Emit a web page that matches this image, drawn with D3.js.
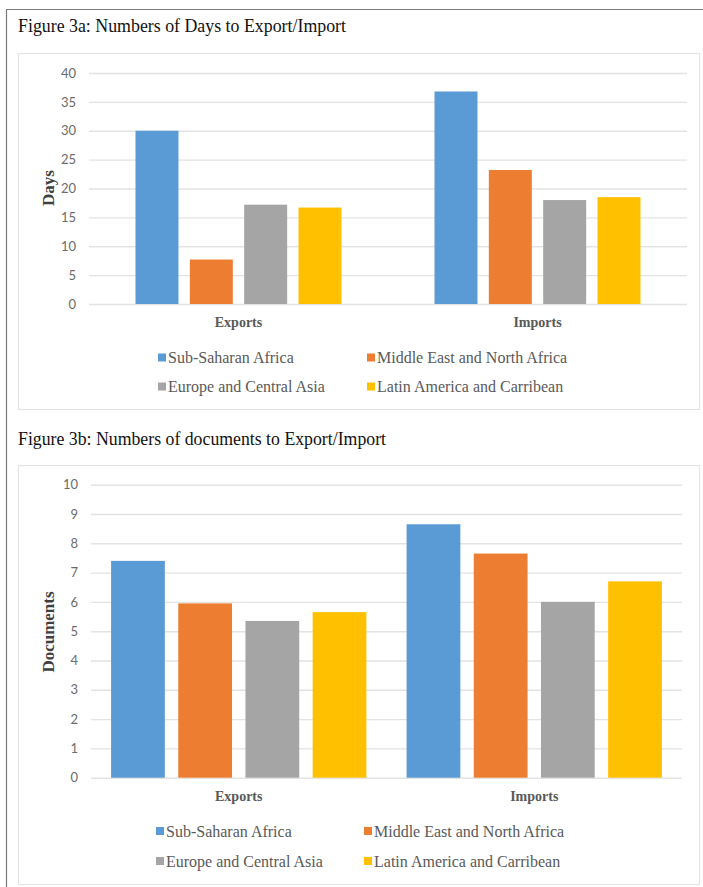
<!DOCTYPE html>
<html>
<head>
<meta charset="utf-8">
<script src="https://cdn.jsdelivr.net/npm/d3@7/dist/d3.min.js"></script>
<style>
  html, body { margin: 0; padding: 0; background: #fff; }
  svg { display: block; }
</style>
</head>
<body>
<svg id="fig" width="703" height="887"></svg>
<script>
// Trade facilitation indicators by region
const categories = ["Exports", "Imports"];
const regions = [
  "Sub-Saharan Africa",
  "Middle East and North Africa",
  "Europe and Central Asia",
  "Latin America and Carribean"
];
const daysExports = [30.0, 7.7, 17.2, 16.7];
const daysImports = [36.8, 23.2, 18.0, 18.5];
const docsExports = [7.4, 5.95, 5.35, 5.65];
const docsImports = [8.65, 7.65, 6.0, 6.7];
const daysTicks = [0, 5, 10, 15, 20, 25, 30, 35, 40];
const docsTicks = [0, 1, 2, 3, 4, 5, 6, 7, 8, 9, 10];

const palette = ["#5B9BD5", "#ED7D31", "#A5A5A5", "#FFC000"];
const serif = "'Liberation Serif', 'Times New Roman', serif";
const sans = "Lato, 'Liberation Sans', sans-serif";
const textGrey = "#595959";

const svg = d3.select("#fig");

// Outer page frame (top and left rules)
svg.append("line").attr("x1", 6).attr("x2", 703).attr("y1", 9.5).attr("y2", 9.5)
  .attr("stroke", "#7a7a7a").attr("stroke-width", 1.2);
svg.append("line").attr("x1", 6.5).attr("x2", 6.5).attr("y1", 9).attr("y2", 887)
  .attr("stroke", "#7a7a7a").attr("stroke-width", 1.2);

function drawPanel(cfg) {
  const g = svg.append("g");

  // Figure caption
  g.append("text")
    .attr("x", 18).attr("y", cfg.titleY)
    .attr("font-family", serif).attr("font-size", 18)
    .attr("fill", "#111")
    .attr("textLength", cfg.titleLen).attr("lengthAdjust", "spacingAndGlyphs")
    .text(cfg.title);

  // Chart area frame
  g.append("rect")
    .attr("x", 18.5).attr("y", cfg.boxTop + 0.5)
    .attr("width", 681).attr("height", cfg.boxBottom - cfg.boxTop)
    .attr("fill", "none").attr("stroke", "#e4e4e4").attr("stroke-width", 1.2);

  const y = d3.scaleLinear().domain([0, cfg.max]).range([cfg.y0, cfg.yTop]);
  const x0 = d3.scaleBand().domain(categories)
    .range([cfg.plotLeft, cfg.plotRight])
    .paddingInner(cfg.outerPadInner).paddingOuter(cfg.outerPadInner / 2);
  const x1 = d3.scaleBand().domain(regions)
    .range([0, x0.bandwidth()]).paddingInner(cfg.barPad).paddingOuter(0);

  // Gridlines and tick labels via a left axis
  const axis = d3.axisLeft(y).tickValues(cfg.ticks)
    .tickSize(-(cfg.plotRight - cfg.plotLeft)).tickPadding(13);
  const ag = g.append("g").attr("transform", `translate(${cfg.plotLeft},0)`).call(axis);
  ag.select(".domain").remove();
  ag.selectAll(".tick line").attr("stroke", "#e3e3e3").attr("stroke-width", 1.4);
  ag.selectAll(".tick text")
    .attr("font-family", sans).attr("font-size", 13).attr("fill", "#6b6b6b");

  // Bars
  const data = categories.map((c, i) => ({
    cat: c,
    vals: (i === 0 ? cfg.exports : cfg.imports).map((v, j) => ({ region: regions[j], v, j }))
  }));
  const groups = g.selectAll("g.grp").data(data).join("g")
    .attr("class", "grp")
    .attr("transform", d => `translate(${x0(d.cat)},0)`);
  groups.selectAll("rect").data(d => d.vals).join("rect")
    .attr("x", d => x1(d.region))
    .attr("width", x1.bandwidth())
    .attr("y", d => y(d.v))
    .attr("height", d => y(0) - y(d.v))
    .attr("fill", d => palette[d.j]);

  // Category labels
  g.selectAll("text.cat").data(categories).join("text")
    .attr("class", "cat")
    .attr("x", d => x0(d) + x0.bandwidth() / 2)
    .attr("y", cfg.catY)
    .attr("text-anchor", "middle")
    .attr("font-family", serif).attr("font-weight", "bold").attr("font-size", 14)
    .attr("fill", textGrey)
    .text(d => d);

  // Axis title
  g.append("text")
    .attr("transform", `translate(54,${cfg.axisTitleY}) rotate(-90)`)
    .attr("text-anchor", "middle")
    .attr("font-family", serif).attr("font-weight", "bold").attr("font-size", 17)
    .attr("fill", "#404040")
    .text(cfg.axisTitle);

  // Legend (2 x 2)
  const leg = g.selectAll("g.leg").data(regions).join("g")
    .attr("class", "leg")
    .attr("transform", (d, i) =>
      `translate(${cfg.legX[i % 2]},${cfg.legY[Math.floor(i / 2)]})`);
  leg.append("rect")
    .attr("x", 0).attr("y", -4).attr("width", 8).attr("height", 8)
    .attr("fill", (d, i) => palette[i]);
  leg.append("text")
    .attr("x", 10).attr("y", 5.5)
    .attr("font-family", serif).attr("font-size", 16)
    .attr("fill", textGrey)
    .text(d => d);
}

drawPanel({
  title: "Figure 3a: Numbers of Days to Export/Import",
  titleY: 32, titleLen: 328,
  boxTop: 53, boxBottom: 409,
  max: 40, ticks: daysTicks,
  y0: 304, yTop: 73,
  plotLeft: 89, plotRight: 687,
  outerPadInner: 0.311, barPad: 0.209,
  exports: daysExports, imports: daysImports,
  catY: 327,
  axisTitle: "Days", axisTitleY: 188,
  legX: [158, 367], legY: [357.5, 386.5]
});

drawPanel({
  title: "Figure 3b: Numbers of documents to Export/Import",
  titleY: 445, titleLen: 368,
  boxTop: 465, boxBottom: 884,
  max: 10, ticks: docsTicks,
  y0: 777.7, yTop: 484.7,
  plotLeft: 91, plotRight: 682,
  outerPadInner: 0.136, barPad: 0.2,
  exports: docsExports, imports: docsImports,
  catY: 801,
  axisTitle: "Documents", axisTitleY: 632,
  legX: [156, 364], legY: [831, 861]
});
</script>
</body>
</html>
